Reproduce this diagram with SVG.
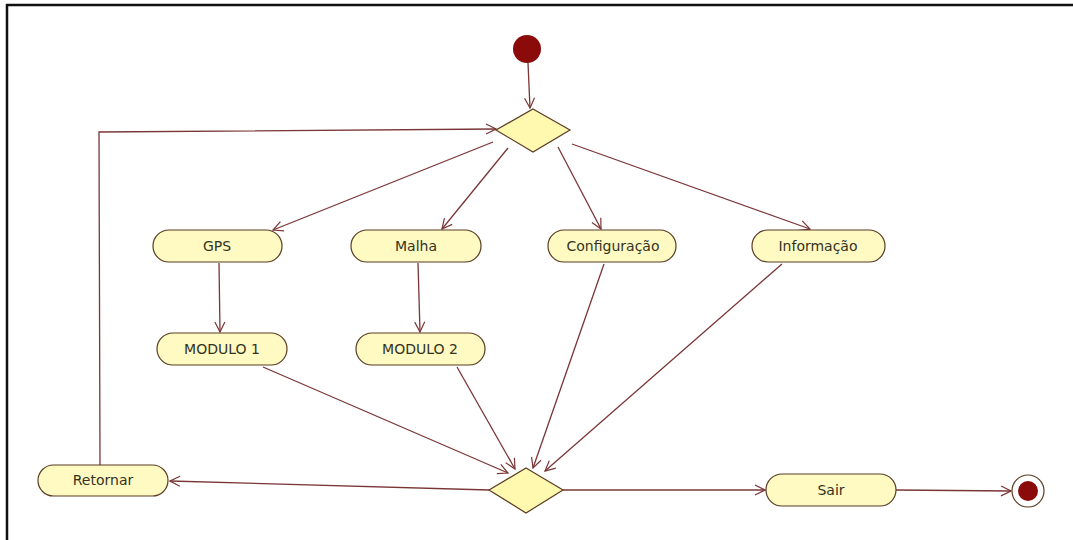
<svg xmlns="http://www.w3.org/2000/svg" width="1073" height="540" viewBox="0 0 1073 540">
  <style>
    .act { fill: #fff9c2; stroke: #5a3c22; stroke-width: 1.2; }
    .dec { fill: #fff9b0; stroke: #5a3c22; stroke-width: 1.2; }
    .lbl { font-family: "DejaVu Sans", "Liberation Sans", sans-serif; font-size: 14px; fill: #33331f; text-anchor: middle; dominant-baseline: central; }
    .edge { fill: none; stroke: #7a3636; stroke-width: 1.3; marker-end: url(#open); }
  </style>
  <defs>
    <marker id="open" viewBox="0 0 12 12" refX="11" refY="6" markerWidth="12" markerHeight="12" markerUnits="userSpaceOnUse" orient="auto">
      <path d="M1,1 L11,6 L1,11" fill="none" stroke="#7a3636" stroke-width="1.2"/>
    </marker>
  </defs>

  <rect x="0" y="0" width="1073" height="540" fill="#ffffff"/>
  <!-- outer frame -->
  <rect x="7" y="5" width="1090" height="560" fill="none" stroke="#111" stroke-width="2.5"/>

  <g id="connectors">
    <line class="edge" x1="528" y1="63" x2="530" y2="108"/>
    <line class="edge" x1="493" y1="142" x2="273" y2="230"/>
    <line class="edge" x1="508" y1="148" x2="442" y2="229"/>
    <line class="edge" x1="558" y1="147" x2="601" y2="229"/>
    <line class="edge" x1="572" y1="144" x2="810" y2="229"/>
    <line class="edge" x1="219" y1="263" x2="220" y2="332"/>
    <line class="edge" x1="418" y1="263" x2="420" y2="332"/>
    <line class="edge" x1="263" y1="367" x2="508" y2="473"/>
    <line class="edge" x1="457" y1="367" x2="515" y2="469"/>
    <line class="edge" x1="604" y1="264" x2="533" y2="468"/>
    <line class="edge" x1="782" y1="264" x2="545" y2="471"/>
    <line class="edge" x1="489" y1="490" x2="170" y2="481"/>
    <polyline class="edge" points="100,465 99,132 496,129"/>
    <line class="edge" x1="563" y1="490" x2="765" y2="490"/>
    <line class="edge" x1="896" y1="490" x2="1011" y2="491"/>
  </g>

  <g id="start">
    <circle cx="527" cy="49" r="14" fill="#8b0a0a"/>
  </g>

  <g id="decision-menu">
    <polygon class="dec" points="533,109 570,130 533,152 496,130"/>
  </g>

  <g id="gps">
    <rect class="act" x="153" y="230" width="129" height="32" rx="16"/>
    <text class="lbl" x="217" y="246">GPS</text>
  </g>
  <g id="malha">
    <rect class="act" x="351" y="230" width="130" height="32" rx="16"/>
    <text class="lbl" x="416" y="246">Malha</text>
  </g>
  <g id="configuracao">
    <rect class="act" x="548" y="230" width="128" height="32" rx="16"/>
    <text class="lbl" x="613" y="246">Configuração</text>
  </g>
  <g id="informacao">
    <rect class="act" x="752" y="230" width="133" height="32" rx="16"/>
    <text class="lbl" x="818" y="246">Informação</text>
  </g>
  <g id="modulo1">
    <rect class="act" x="157" y="333" width="130" height="32" rx="16"/>
    <text class="lbl" x="222" y="349">MODULO 1</text>
  </g>
  <g id="modulo2">
    <rect class="act" x="356" y="333" width="129" height="32" rx="16"/>
    <text class="lbl" x="420" y="349">MODULO 2</text>
  </g>

  <g id="decision-merge">
    <polygon class="dec" points="526,468 563,490 526,513 489,490"/>
  </g>

  <g id="retornar">
    <rect class="act" x="38" y="465" width="130" height="31" rx="15.5"/>
    <text class="lbl" x="103" y="480">Retornar</text>
  </g>
  <g id="sair">
    <rect class="act" x="766" y="474" width="130" height="32" rx="16"/>
    <text class="lbl" x="831" y="490">Sair</text>
  </g>

  <g id="end">
    <circle cx="1028" cy="491" r="16" fill="#fff" stroke="#5a3c22" stroke-width="1.2"/>
    <circle cx="1028" cy="491" r="10" fill="#8b0a0a"/>
  </g>
</svg>
